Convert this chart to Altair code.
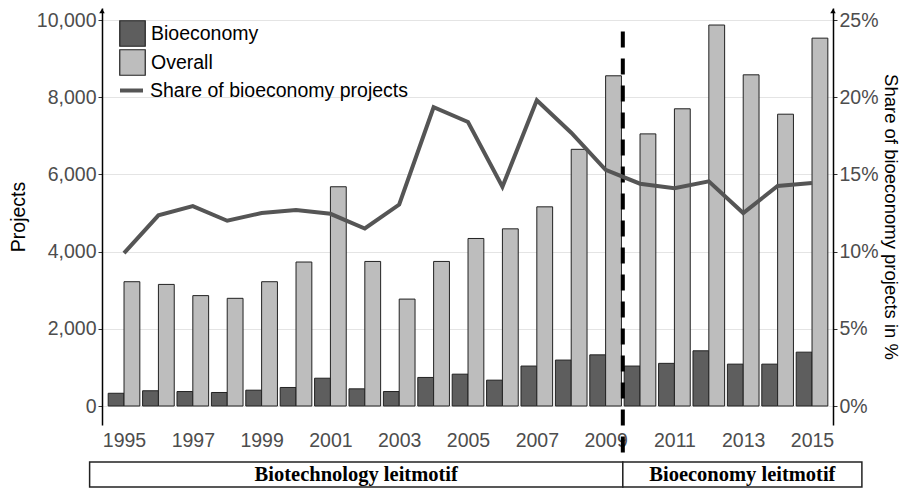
import altair as alt
import pandas as pd

years = list(range(1995, 2016))
bioeconomy = [330, 395, 375, 350, 410, 480, 720, 445, 375, 740, 825, 670, 1035, 1190, 1325,
              1035, 1105, 1430, 1085, 1085, 1395]
overall = [3220, 3150, 2860, 2790, 3220, 3730, 5680, 3745, 2770, 3745, 4340, 4590, 5160, 6650, 8555,
           7050, 7700, 9870, 8580, 7560, 9530]
share_pct = [9.9, 12.35, 12.95, 12.0, 12.5, 12.7, 12.45, 11.5, 13.05, 19.35, 18.4, 14.2, 19.8, 17.7, 15.3,
             14.4, 14.1, 14.55, 12.5, 14.25, 14.45]
series_names = ["Bioeconomy", "Overall"]
line_name = "Share of bioeconomy projects"
tick_years = [1995, 1997, 1999, 2001, 2003, 2005, 2007, 2009, 2011, 2013, 2015]
left_ticks = [0, 2000, 4000, 6000, 8000, 10000]
right_ticks = [0, 0.05, 0.10, 0.15, 0.20, 0.25]
periods = ["Biotechnology leitmotif", "Bioeconomy leitmotif"]
period_start = [1994.0, 2009.5]
period_end = [2009.5, 2016.45]
switch_year = 2009.5

bars_df = pd.DataFrame({
    "year": years * 2,
    "series": [series_names[0]] * len(years) + [series_names[1]] * len(years),
    "projects": bioeconomy + overall,
})
line_df = pd.DataFrame({"year": years, "share_pct": share_pct, "series": line_name})
period_df = pd.DataFrame({"label": periods, "start": period_start, "end": period_end})

FONT = "Liberation Sans"
FS = 19.5
xs = alt.Scale(domain=[1994.36, 2015.61], nice=False, zero=False)
ys = alt.Scale(domain=[-492, 10311], nice=False, zero=False)
ys_right = alt.Scale(domain=[-0.0123, 0.2578], nice=False, zero=False)

x_axis = alt.Axis(values=tick_years, format="d", title=None, domain=False, ticks=False,
                  grid=False, labelPadding=6, labelFontSize=FS, labelColor="#4d4d4d",
                  labelFont=FONT, labelFlush=False, labelOverlap=False)
left_axis = alt.Axis(values=left_ticks, format=",d", title="Projects", grid=True,
                     gridColor="#e4e4e4", gridWidth=1, domainColor="black", domainWidth=1.5,
                     tickColor="#333333", tickSize=4, labelPadding=2, labelFontSize=FS,
                     labelColor="#4d4d4d", labelFont=FONT, titleFont=FONT, titleFontSize=FS,
                     titleFontWeight="normal", titleColor="black", titlePadding=8)
right_axis = alt.Axis(values=right_ticks, format=".0%", orient="right",
                      title="Share of bioeconomy projects in %", grid=False,
                      domainColor="black", domainWidth=1.5, tickColor="#333333", tickSize=4,
                      labelPadding=2, labelFontSize=FS, labelColor="#4d4d4d", labelFont=FONT,
                      titleFont=FONT, titleFontSize=18.5, titleFontWeight="normal",
                      titleColor="black", titlePadding=2)

bars = alt.Chart(bars_df).transform_calculate(
    x0="datum.series == 'Bioeconomy' ? datum.year - 0.46 : datum.year",
    x1="datum.series == 'Bioeconomy' ? datum.year : datum.year + 0.46",
).mark_bar(stroke="#222222", strokeWidth=1).encode(
    x=alt.X("x0:Q", scale=xs, axis=x_axis),
    x2="x1:Q",
    y=alt.Y("projects:Q", scale=ys, axis=left_axis),
    y2=alt.datum(0),
    fill=alt.Fill("series:N",
                  scale=alt.Scale(domain=series_names, range=["#5e5e5e", "#bdbdbd"]),
                  legend=alt.Legend(title=None, orient="none", legendX=17, legendY=12,
                                    symbolType="square", symbolSize=650,
                                    symbolStrokeColor="#222222", symbolStrokeWidth=1.2,
                                    symbolOpacity=1, labelFontSize=FS, labelFont=FONT,
                                    labelColor="black", rowPadding=-3, labelOffset=5,
                                    labelLimit=400, padding=0)),
)

rule = alt.Chart(period_df).transform_filter("datum.start == 2009.5").mark_rule(
    color="black", strokeWidth=4, strokeDash=[16, 11]
).encode(
    x=alt.datum(switch_year),
    y=alt.datum(9700),
    y2=alt.value(454),
)

boxes = alt.Chart(period_df).mark_rect(fill="white", stroke="#222222", strokeWidth=1.5).encode(
    x="start:Q", x2="end:Q", y=alt.value(454), y2=alt.value(479)
)
box_text = alt.Chart(period_df).transform_calculate(
    mid="(datum.start + datum.end) / 2"
).mark_text(font="Liberation Serif", fontWeight="bold", fontSize=20.5, color="black",
            baseline="middle").encode(
    x="mid:Q", y=alt.value(467), text="label:N"
)

arrows = alt.Chart(pd.DataFrame({"side": ["left", "right"], "pos": [0, 731]})).mark_point(
    shape="triangle-up", filled=True, size=30, color="black", opacity=1
).encode(x=alt.X("pos:Q", scale=None), y=alt.value(3))

left_layer = alt.layer(bars, rule, boxes, box_text)

line = alt.Chart(line_df).transform_calculate(
    share="datum.share_pct / 100"
).mark_line(strokeWidth=4).encode(
    x=alt.X("year:Q", scale=xs),
    y=alt.Y("share:Q", scale=ys_right, axis=right_axis),
    stroke=alt.Stroke("series:N", scale=alt.Scale(domain=[line_name], range=["#555555"]),
                      legend=alt.Legend(title=None, orient="none", legendX=16, legendY=69,
                                        symbolType="stroke", symbolSize=529,
                                        symbolStrokeWidth=4, labelFontSize=FS,
                                        labelFont=FONT, labelColor="black", labelOffset=5,
                                        labelLimit=400, padding=0)),
)

chart = alt.layer(left_layer, line, arrows).resolve_scale(
    y="independent", fill="independent", stroke="independent"
).properties(
    width=731, height=417,
    autosize=alt.AutoSizeParams(type="none"),
    padding={"left": 94, "top": 0, "right": 70, "bottom": 63},
).configure(font=FONT).configure_view(strokeWidth=0)

chart.save("out.html", embed_options={"renderer": "svg", "actions": False})
